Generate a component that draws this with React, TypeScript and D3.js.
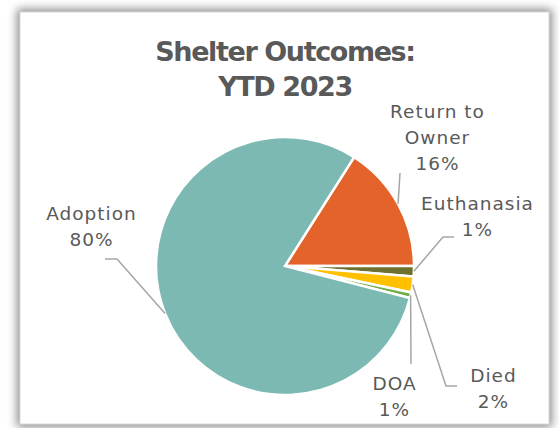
import React from "react";
import * as d3 from "d3";

const categories = ["Return to Owner", "Euthanasia", "Died", "DOA", "Adoption"];
const values = [16, 1.3, 2, 0.7, 80];
const colors = ["#E3632A", "#6E7030", "#FFC000", "#70AD47", "#7DB9B3"];
const labelLines = [["Return to", "Owner"], ["Euthanasia"], ["Died"], ["DOA"], ["Adoption"]];
const titleLines = ["Shelter Outcomes:", "YTD 2023"];

// layout (label anchor = center x, first baseline y; elbow & end of leader)
const labelLayout = [
  { x: 437, y: 118, elbow: null as null | [number, number], end: [400, 173] },
  { x: 477, y: 210, elbow: [443, 237], end: [454, 237] },
  { x: 493, y: 382, elbow: [446, 386], end: [457, 386] },
  { x: 394, y: 390, elbow: null, end: [411, 364] },
  { x: 91, y: 220, elbow: [117, 259], end: [105, 259] },
];

const W = 559, H = 428;
const cx = 285, cy = 266, R = 129;
const FONT = "'DejaVu Sans', sans-serif";

export default function App() {
  const total = d3.sum(values);
  const start = (90 - (values[0] / total) * 360) * Math.PI / 180;
  const pie = d3.pie<number>().sort(null).startAngle(start).endAngle(start + 2 * Math.PI);
  const arcs = pie(values);
  const arc = d3.arc<d3.PieArcDatum<number>>().innerRadius(0).outerRadius(R);
  const lineGap = 26;

  return (
    <svg width={W} height={H} style={{ position: "absolute", left: 0, top: 0 }}>
      <defs>
        <filter id="sh" x="-10%" y="-10%" width="120%" height="120%">
          <feGaussianBlur stdDeviation="5" />
        </filter>
      </defs>
      <rect x={0} y={0} width={W} height={H} fill="#fff" />
      <rect x={17} y={9} width={535} height={418} fill="#8a8a8a" filter="url(#sh)" />
      <rect x={20} y={12} width={529} height={412} fill="#fff" stroke="#d9d9d9" strokeWidth={1} />
      {titleLines.map((t, i) => (
        <text key={i} x={285} y={61 + i * 35} textAnchor="middle" fontFamily={FONT}
          fontWeight="bold" fontSize={27} letterSpacing={-1.4} fill="#595959">{t}</text>
      ))}
      <g transform={`translate(${cx},${cy})`}>
        {arcs.map((a, i) => (
          <path key={i} d={arc(a) || ""} fill={colors[i]} stroke="#fff" strokeWidth={2.5} strokeLinejoin="miter" />
        ))}
      </g>
      {arcs.map((a, i) => {
        const mid = (a.startAngle + a.endAngle) / 2;
        const px = cx + R * Math.sin(mid);
        const py = cy - R * Math.cos(mid);
        const L = labelLayout[i];
        const pts: [number, number][] = [[px, py]];
        if (L.elbow) pts.push(L.elbow as [number, number]);
        pts.push(L.end as [number, number]);
        const pct = Math.round((values[i] / total) * 100) + "%";
        const lines = [...labelLines[i], pct];
        return (
          <g key={i}>
            <path d={d3.line()(pts) || ""} fill="none" stroke="#A6A6A6" strokeWidth={1.5} />
            {lines.map((t, j) => (
              <text key={j} x={L.x + 0.5} y={L.y + j * lineGap} textAnchor="middle" fontFamily={FONT}
                fontSize={18.5} letterSpacing={1} fill="#595959">{t}</text>
            ))}
          </g>
        );
      })}
    </svg>
  );
}
